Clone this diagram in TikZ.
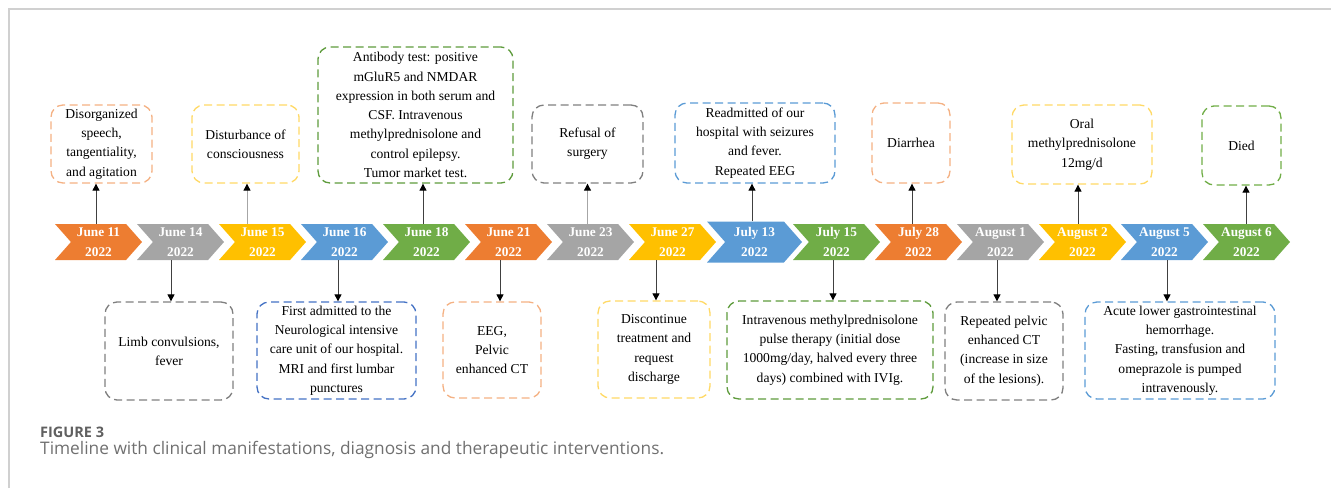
\documentclass[tikz,border=0pt]{standalone}
\usepackage{fontspec}
\setmainfont{Liberation Serif}
\newfontfamily\capfont{Open Sans}
\usetikzlibrary{shapes.symbols, arrows.meta}

% fills of the date arrows
\definecolor{cOrange}{HTML}{ED7D31}
\definecolor{cGray}{HTML}{A5A5A5}
\definecolor{cYellow}{HTML}{FFC000}
\definecolor{cBlue}{HTML}{5B9BD5}
\definecolor{cGreen}{HTML}{70AD47}
% dashed borders of the events
\definecolor{eOrange}{HTML}{F4B183}
\definecolor{eYellow}{HTML}{FFD966}
\definecolor{eGray}{HTML}{7F7F7F}
\definecolor{eBlue}{HTML}{5B9BD5}
\definecolor{eDkBlue}{HTML}{4472C4}
\definecolor{eGreen}{HTML}{5E9B3C}
\definecolor{eLtGreen}{HTML}{70AD47}
\definecolor{frameGray}{HTML}{D0D0D0}
\definecolor{capGray}{HTML}{606060}

\tikzset{
  datebox/.style={signal, signal to=east, signal from=west,
    signal pointer angle=97, minimum width=87pt, minimum height=36pt,
    inner sep=0pt, text=white, align=center,
    font=\fontsize{13.3}{19.5}\selectfont\bfseries},
  wide/.style={minimum width=95pt, minimum height=41pt},
  plain/.style={},
  event/.style={rounded corners=12pt, line width=1.3pt,
    dash pattern=on 8pt off 4.5pt, align=center, inner sep=2pt,
    font=\fontsize{13.6}{19.3}\selectfont},
  link/.style={line width=0.9pt, draw=black!75,
    -{Triangle[length=7pt, width=7pt, color=black]}},
  faint/.style={draw=black!35},
}

\begin{document}
\begin{tikzpicture}[x=1pt, y=-1pt]
  \useasboundingbox (0,0) rectangle (1331,491);
  \draw[frameGray, line width=1.2pt] (9,488) -- (9,9) -- (1331,9);

  % the time line
  \foreach \dt/\fc/\sz [count=\i from 0] in {June 11/cOrange/plain,
      June 14/cGray/plain, June 15/cYellow/plain, June 16/cBlue/plain,
      June 18/cGreen/plain, June 21/cOrange/plain, June 23/cGray/plain,
      June 27/cYellow/plain, July 13/cBlue/wide, July 15/cGreen/plain,
      July 28/cOrange/plain, August 1/cGray/plain, August 2/cYellow/plain,
      August 5/cBlue/plain, August 6/cGreen/plain}
    \node[datebox, fill=\fc, \sz] (d\i) at ({98.5+82*\i},242) {\dt\\2022};

  % events above the line
  \node[event, draw=eOrange, minimum width=101pt, minimum height=78pt] (t1) at (101.5,144)
    {Disorganized\\speech,\\tangentiality,\\and agitation};
  \node[event, draw=eYellow, minimum width=107pt, minimum height=78pt] (t2) at (245.5,144)
    {Disturbance of\\consciousness};
  \node[event, draw=eGreen, minimum width=195pt, minimum height=136pt] (t3) at (415.5,115)
    {Antibody test: positive\\mGluR5 and NMDAR\\expression in both serum and\\CSF. Intravenous\\methylprednisolone and\\control epilepsy.\\Tumor market test.};
  \node[event, draw=eGray, minimum width=111pt, minimum height=78pt] (t4) at (587.5,144)
    {Refusal of\\surgery};
  \node[event, draw=eBlue, minimum width=160pt, minimum height=80pt] (t5) at (755,143)
    {Readmitted of our\\hospital with seizures\\and fever.\\Repeated EEG};
  \node[event, draw=eOrange, minimum width=78pt, minimum height=80pt] (t6) at (911,143)
    {Diarrhea};
  \node[event, draw=eYellow, minimum width=140pt, minimum height=79pt] (t7) at (1082,144.5)
    {Oral\\methylprednisolone\\12mg/d};
  \node[event, draw=eLtGreen, minimum width=79pt, minimum height=79pt] (t8) at (1241.5,145.5)
    {Died};

  % events below the line
  \node[event, draw=eGray, minimum width=128pt, minimum height=98pt] (b1) at (169,351)
    {Limb convulsions,\\fever};
  \node[event, draw=eDkBlue, minimum width=159pt, minimum height=97pt] (b2) at (336.5,350.5)
    {First admitted to the\\Neurological intensive\\care unit of our hospital.\\MRI and first lumbar\\punctures};
  \node[event, draw=eOrange, minimum width=98pt, minimum height=96pt] (b3) at (492,350)
    {EEG,\\Pelvic\\enhanced CT};
  \node[event, draw=eYellow, minimum width=112pt, minimum height=97pt] (b4) at (654,349.5)
    {Discontinue\\treatment and\\request\\discharge};
  \node[event, draw=eGreen, minimum width=206pt, minimum height=98pt] (b5) at (830,350)
    {Intravenous methylprednisolone\\pulse therapy (initial dose\\1000mg/day, halved every three\\days) combined with IVIg.};
  \node[event, draw=eGray, minimum width=118pt, minimum height=98pt] (b6) at (1004,351)
    {Repeated pelvic\\enhanced CT\\(increase in size\\of the lesions).};
  \node[event, draw=eBlue, minimum width=190pt, minimum height=97pt] (b7) at (1180,350.5)
    {Acute lower gastrointestinal\\hemorrhage.\\Fasting, transfusion and\\omeprazole is pumped\\intravenously.};

  % arrows up and down
  \foreach \ev/\dt/\dx/\ls in {t1/0/-5.5/plain, t2/2/1.5/faint, t3/4/7.5/plain,
      t4/6/0/faint, t5/8/-3/plain, t6/10/1/plain, t7/12/-4/plain, t8/14/4.5/plain} {
    \path (\ev.south) ++(\dx,0) coordinate (\ev-tip);
    \draw[link, \ls] (d\dt.north -| \ev-tip) -- (\ev-tip);
  }
  \foreach \ev/\dt/\dx in {b1/1/2, b2/3/1.5, b3/5/8, b4/7/2, b5/9/3, b6/11/-7, b7/13/-13} {
    \path (\ev.north) ++(\dx,0) coordinate (\ev-tip);
    \draw[link] (d\dt.south -| \ev-tip) -- (\ev-tip);
  }

  % caption
  \node[anchor=base west, inner sep=0pt, text=capGray,
    font=\capfont\bfseries\fontsize{14.5}{16}\selectfont] (figlabel) at (40,437.5) {FIGURE 3};
  \node[anchor=base west, inner sep=0pt, text=capGray!90,
    font=\capfont\fontsize{17.3}{19}\selectfont] (figcaption) at (40,454)
    {Timeline with clinical manifestations, diagnosis and therapeutic interventions.};
\end{tikzpicture}
\end{document}
